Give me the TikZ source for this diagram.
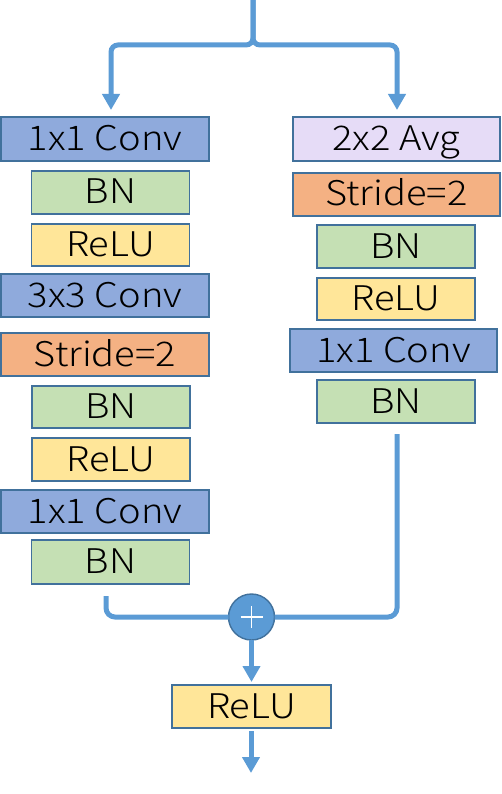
\documentclass[tikz,border=0pt]{standalone}
\usepackage{fontspec}
\setmainfont{Noto Sans CJK JP}[UprightFont={* Light}, FakeStretch=1.12]
\usetikzlibrary{arrows.meta}
\definecolor{edge}{HTML}{41719C}
\definecolor{lineblue}{HTML}{5B9BD5}
\definecolor{convc}{HTML}{8FAADC}
\definecolor{bnc}{HTML}{C5E0B4}
\definecolor{reluc}{HTML}{FFE699}
\definecolor{stridec}{HTML}{F4B183}
\definecolor{avgc}{HTML}{E6DCF7}
\begin{document}
\begin{tikzpicture}[x=1pt,y=-1pt,
  blk/.style={draw=edge, line width=1.4pt, inner sep=0pt, outer sep=0pt,
    font=\fontsize{34}{37}\selectfont, text height=25pt, text depth=2pt},
  wide/.style={blk, minimum width=208pt},
  narrow/.style={blk, minimum width=158pt},
  conv/.style={wide, fill=convc},
  stride/.style={wide, fill=stridec},
  avg/.style={wide, fill=avgc},
  bn/.style={narrow, fill=bnc},
  relu/.style={narrow, fill=reluc},
  wire/.style={draw=lineblue, line width=5pt},
  flow/.style={wire, -{Triangle[width=17pt,length=16pt]}},
  plusnode/.style={circle, fill=lineblue, draw=edge, line width=1.4pt, minimum size=46pt, inner sep=0pt, outer sep=0pt}
]
\useasboundingbox (0,0) rectangle (501,794);

% left column
\node[conv, minimum height=44pt]   (c1) at (105,139)   {1x1 Conv};
\node[bn, minimum height=43pt]     (n1) at (110.5,192.5) {BN};
\node[relu, minimum height=42pt]   (r1) at (110.5,245) {ReLU};
\node[conv, minimum height=43pt]   (c3) at (105,295.5) {3x3 Conv};
\node[stride, minimum height=43pt] (s1) at (105,354.5) {Stride=2};
\node[bn, minimum height=42pt]     (n2) at (111,407)   {BN};
\node[relu, minimum height=43pt]   (r2) at (111,459.5) {ReLU};
\node[conv, minimum height=43pt]   (c4) at (105,511.5) {1x1 Conv};
\node[bn, minimum height=44pt]     (n3) at (110.5,562) {BN};

% right column
\node[avg, minimum width=207pt, minimum height=44pt]    (a1) at (396.5,139)   {2x2 Avg};
\node[stride, minimum width=207pt, minimum height=43pt] (s2) at (396.5,194.5) {Stride=2};
\node[bn, minimum height=43pt]     (n4) at (396,246.5) {BN};
\node[relu, minimum height=42pt]   (r3) at (396,299)   {ReLU};
\node[conv, minimum width=207pt, minimum height=43pt]   (c5) at (393.5,350.5) {1x1 Conv};
\node[bn, minimum height=43pt]     (n5) at (396,401.5) {BN};

% merge
\node[plusnode] (plus) at (251.5,617) {};
\draw[white, line width=1.5pt] ([xshift=-11pt]plus.center) -- ([xshift=11pt]plus.center)
  ([yshift=-11pt]plus.center) -- ([yshift=11pt]plus.center);
\node[relu, minimum width=159pt, minimum height=43pt] (r4) at (251.5,706.5) {ReLU};

% coordinates
\coordinate (in) at (253,0);
\coordinate (jt) at (253,45);
\coordinate (tl) at (111,110);
\coordinate (tr) at (397,110);
\coordinate (bl) at (106,596);
\coordinate (br) at (397,434);
\coordinate (out) at (251,773);

% connectors
\draw[flow, rounded corners=7pt] (in) -- (jt) -- (111,45) -- (tl);
\draw[flow, rounded corners=7pt] (in) -- (jt) -- (397,45) -- (tr);
\draw[wire, rounded corners=9pt] (bl) -- (106,617) -- (plus.west);
\draw[wire, rounded corners=9pt] (br) -- (397,617) -- (plus.east);
\draw[flow, shorten >=3pt] (plus.south) -- (plus.south |- r4.north);
\draw[flow, shorten <=3pt] (out |- r4.south) -- (out);
\end{tikzpicture}
\end{document}
